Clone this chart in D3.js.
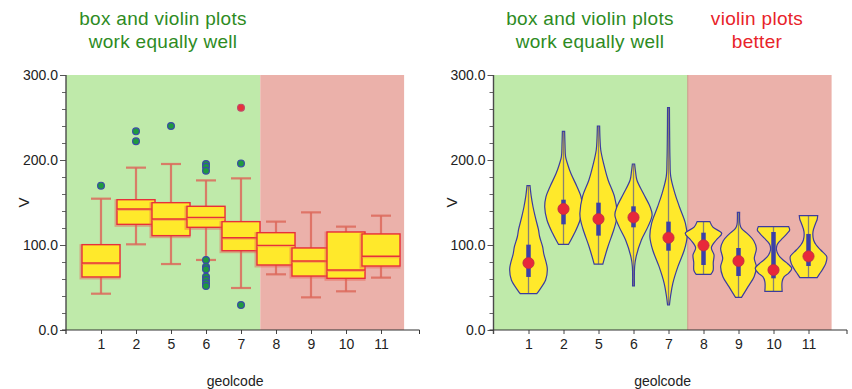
<!DOCTYPE html>
<html>
<head>
<meta charset="utf-8">
<script src="https://cdn.jsdelivr.net/npm/d3@7"></script>
<style>
  body { margin: 0; background: #fff; }
  svg { display: block; font-family: "Liberation Sans", Arial, Helvetica, sans-serif; }
</style>
</head>
<body>
<svg id="chart" width="852" height="389"></svg>
<script>
// Geological units (x categories)
const cats = ["1", "2", "5", "6", "7", "8", "9", "10", "11"];

// Box plot statistics of V per unit
const whiskerLow  = [42.7, 100.8, 77.6, 82.4, 49.4, 65.5, 38.4, 45.5, 61.6];
const q1          = [62.4, 124.3, 111.0, 120.8, 93.3, 76.5, 63.5, 60.8, 75.3];
const median      = [78.8, 142.4, 130.6, 132.5, 108.6, 99.6, 81.2, 70.6, 86.7];
const q3          = [100.4, 153.3, 149.8, 145.5, 127.5, 114.5, 96.5, 115.3, 113.0];
const whiskerHigh = [154.5, 191.0, 195.3, 176.0, 178.4, 127.5, 138.4, 121.6, 134.5];

// Outside values and far-out values
const outliers = [
  [169.8],
  [233.7, 222.0],
  [240.0],
  [195.3, 192.0, 187.4, 82.4, 74.5, 71.4, 62.7, 58.8, 54.9, 51.8],
  [196.0, 29.4],
  [], [], [], []
];
const extremes = [[], [], [], [], [261.6], [], [], [], []];

// Violin density profiles: [V, relative density]
const violinProfiles = [
  [[42.7,.44],[47,.58],[58.8,.91],[72,1.0],[90,.81],[98,.75],[110,.59],[118,.53],[133,.36],[145,.24],[158,.14],[169.8,.08]],
  [[100.8,.27],[113.7,.58],[129.4,.88],[145,1.0],[157,.93],[168.6,.72],[184.3,.39],[195,.22],[204,.11],[218,.08],[233.7,.06]],
  [[77.6,.23],[98,.5],[117.6,.81],[130,.96],[137.3,.99],[156.9,.85],[176.5,.51],[196,.27],[211.8,.12],[225,.08],[240,.06]],
  [[51.8,.05],[74.5,.06],[86.3,.14],[105.9,.42],[121.6,.77],[135.3,.99],[145,.88],[160.8,.52],[176.5,.18],[186,.11],[195.3,.06]],
  [[29.4,.05],[40,.11],[54.9,.23],[74.5,.5],[94.1,.84],[109.8,.99],[125.5,.9],[145,.58],[160.8,.34],[180.4,.12],[200,.08],[230,.06],[261.6,.05]],
  [[65.5,.39],[70,.51],[79.6,.52],[88.2,.56],[96.9,.42],[105.9,.68],[113.7,.97],[121,.5],[127.5,.34]],
  [[38.4,.16],[51,.51],[62.7,.83],[74.5,.95],[84,.84],[96,.95],[105,.81],[112,.54],[119.6,.16],[124,.08],[138.4,.06]],
  [[45.5,.46],[57,.46],[62.7,.57],[67,.81],[72.6,.97],[78,.76],[82.4,.51],[88,.27],[94.1,.16],[100,.19],[104,.31],[108,.49],[113.7,.73],[117.5,.86],[121.6,.81]],
  [[61.6,.46],[66,.59],[70.6,.73],[78.4,.92],[86.3,.97],[94.1,.65],[100,.41],[105.9,.27],[115.7,.24],[125.5,.38],[130,.46],[134.5,.49]]
];

// Y axis ticks
const majorTicks = [0, 100, 200, 300];
const minorTicks = [20, 40, 60, 80, 120, 140, 160, 180, 220, 240, 260, 280];

// Panel headings
const leftTitle = ["box and violin plots", "work equally well"];
const rightTitleA = ["box and violin plots", "work equally well"];
const rightTitleB = ["violin plots", "better"];
const xLabel = "geolcode";
const yLabel = "V";

const svg = d3.select("#chart");
const GREEN = "#bfeaaa", PINK = "#ebb1aa", YELLOW = "#ffe92b";
const BOX_RED = "#e8303a", TXT = "#222";

const y = d3.scaleLinear().domain([0, 300]).range([330, 75]);
const wScale = d3.scaleLinear().domain([0, 1]).range([0, 18.8]);

function drawPanel(ox, kind) {
  const g = svg.append("g");
  const x = d3.scaleLinear().domain([0, 10.1]).range([ox, ox + 35 * 10.1]);
  const pos = i => x(i + 1);

  // background zones
  g.append("rect").attr("x", x(0)).attr("y", y(300))
    .attr("width", x(5.55) - x(0)).attr("height", y(0) - y(300)).attr("fill", GREEN);
  g.append("rect").attr("x", x(5.55)).attr("y", y(300))
    .attr("width", x(9.66) - x(5.55)).attr("height", y(0) - y(300)).attr("fill", PINK);
  if (kind === "violin") {
    g.append("line").attr("x1", x(5.55)).attr("x2", x(5.55))
      .attr("y1", y(300)).attr("y2", y(0)).attr("stroke", "#c99a86").attr("stroke-width", 1);
  }

  if (kind === "box") {
    cats.forEach((c, i) => {
      const cx = pos(i), bw = 38, cap = 20;
      const wg = g.append("g");
      // whiskers
      wg.append("line").attr("x1", cx).attr("x2", cx).attr("y1", y(whiskerHigh[i])).attr("y2", y(q3[i]))
        .attr("stroke", "#dd6a5c").attr("stroke-width", 2.2).attr("opacity", 0.85);
      wg.append("line").attr("x1", cx).attr("x2", cx).attr("y1", y(q1[i])).attr("y2", y(whiskerLow[i]))
        .attr("stroke", "#dd6a5c").attr("stroke-width", 2.2).attr("opacity", 0.85);
      [whiskerHigh[i], whiskerLow[i]].forEach(v => {
        wg.append("line").attr("x1", cx - cap / 2).attr("x2", cx + cap / 2).attr("y1", y(v)).attr("y2", y(v))
          .attr("stroke", "#dd6a5c").attr("stroke-width", 2.2).attr("opacity", 0.85);
      });
      // soft offset outline
      wg.append("rect").attr("x", cx - bw / 2 - 1).attr("y", y(q3[i]) + 1)
        .attr("width", bw).attr("height", y(q1[i]) - y(q3[i]))
        .attr("fill", "none").attr("stroke", "#e8604f").attr("stroke-width", 3).attr("opacity", 0.45);
      wg.append("rect").attr("x", cx - bw / 2).attr("y", y(q3[i]))
        .attr("width", bw).attr("height", y(q1[i]) - y(q3[i]))
        .attr("fill", YELLOW).attr("stroke", BOX_RED).attr("stroke-width", 1.4);
      wg.append("line").attr("x1", cx - bw / 2).attr("x2", cx + bw / 2)
        .attr("y1", y(median[i]) + 1).attr("y2", y(median[i]) + 1)
        .attr("stroke", "#f08a50").attr("stroke-width", 2).attr("opacity", 0.5);
      wg.append("line").attr("x1", cx - bw / 2).attr("x2", cx + bw / 2)
        .attr("y1", y(median[i])).attr("y2", y(median[i]))
        .attr("stroke", BOX_RED).attr("stroke-width", 1.4);
      outliers[i].forEach(v => {
        wg.append("circle").attr("cx", cx).attr("cy", y(v)).attr("r", 3.4)
          .attr("fill", "#1f9a3e").attr("stroke", "#3a4aa8").attr("stroke-width", 1.2);
      });
      extremes[i].forEach(v => {
        wg.append("circle").attr("cx", cx).attr("cy", y(v)).attr("r", 3.4)
          .attr("fill", "#e8303a").attr("stroke", "#c04a6a").attr("stroke-width", 1.2);
      });
    });
  } else {
    const area = d3.area()
      .y(d => y(d[0]))
      .curve(d3.curveCatmullRom.alpha(0.5));
    cats.forEach((c, i) => {
      const cx = pos(i);
      const prof = violinProfiles[i];
      const vg = g.append("g");
      vg.append("path").datum(prof)
        .attr("d", area.x0(d => cx - wScale(d[1])).x1(d => cx + wScale(d[1])))
        .attr("fill", YELLOW).attr("stroke", "#3b3ca0").attr("stroke-width", 1.2);
      const all = [whiskerLow[i], whiskerHigh[i], ...outliers[i], ...extremes[i]];
      vg.append("line").attr("x1", cx).attr("x2", cx)
        .attr("y1", y(d3.min(all))).attr("y2", y(d3.max(all)))
        .attr("stroke", "#4a4a9a").attr("stroke-width", 1.3).attr("opacity", 0.65);
      vg.append("line").attr("x1", cx).attr("x2", cx)
        .attr("y1", y(q1[i])).attr("y2", y(q3[i]))
        .attr("stroke", "#3b40a8").attr("stroke-width", 4.5);
      vg.append("circle").attr("cx", cx).attr("cy", y(median[i])).attr("r", 5.6)
        .attr("fill", "#e8283a").attr("stroke", "#b83048").attr("stroke-width", 0.8);
    });
  }

  // y axis
  const ya = g.append("g").attr("transform", `translate(${ox},0)`);
  ya.call(d3.axisLeft(y).tickValues(majorTicks).tickFormat(d3.format(".1f")).tickSize(6).tickPadding(2));
  ya.select(".domain").remove();
  ya.selectAll("line").attr("stroke", "#555");
  ya.selectAll("text").attr("font-size", 14).attr("fill", TXT);
  const ym = g.append("g").attr("transform", `translate(${ox},0)`);
  ym.call(d3.axisLeft(y).tickValues(minorTicks).tickFormat("").tickSize(4));
  ym.select(".domain").remove();
  ym.selectAll("line").attr("stroke", "#666");
  g.append("line").attr("x1", ox).attr("x2", ox).attr("y1", y(300)).attr("y2", y(0) + 4)
    .attr("stroke", "#4a4a4a").attr("stroke-width", 1.4);

  // x axis
  const xa = g.append("g").attr("transform", `translate(0,${y(0)})`);
  xa.call(d3.axisBottom(x).tickValues(d3.range(1, cats.length + 1))
    .tickFormat(d => cats[d - 1]).tickSize(4).tickPadding(5));
  xa.select(".domain").remove();
  xa.selectAll("line").attr("stroke", "#444");
  xa.selectAll("text").attr("font-size", 14).attr("fill", TXT);
  g.append("line").attr("x1", ox - 4).attr("x2", x(10.1)).attr("y1", y(0)).attr("y2", y(0))
    .attr("stroke", "#333").attr("stroke-width", 1.2);
  g.append("line").attr("x1", x(10.1)).attr("x2", x(10.1)).attr("y1", y(0)).attr("y2", y(0) + 4)
    .attr("stroke", "#333").attr("stroke-width", 1);

  // axis titles
  g.append("text").attr("x", (x(0) + x(9.66)) / 2).attr("y", 386)
    .attr("text-anchor", "middle").attr("font-size", 14).attr("fill", TXT).text(xLabel);
  g.append("text").attr("transform", `translate(${ox - 37},${y(150)}) rotate(-90)`)
    .attr("text-anchor", "middle").attr("font-size", 15).attr("fill", TXT).text(yLabel);
  return x;
}

function title(lines, cx, color) {
  lines.forEach((t, k) => {
    svg.append("text").attr("x", cx).attr("y", 25 + k * 23)
      .attr("text-anchor", "middle").attr("font-size", 19).attr("letter-spacing", 0.3)
      .attr("fill", color).text(t);
  });
}

drawPanel(66, "box");
drawPanel(493.5, "violin");
title(leftTitle, 163, "#2e8b1f");
title(rightTitleA, 590, "#2e8b1f");
title(rightTitleB, 757, "#e8232a");
</script>
</body>
</html>
